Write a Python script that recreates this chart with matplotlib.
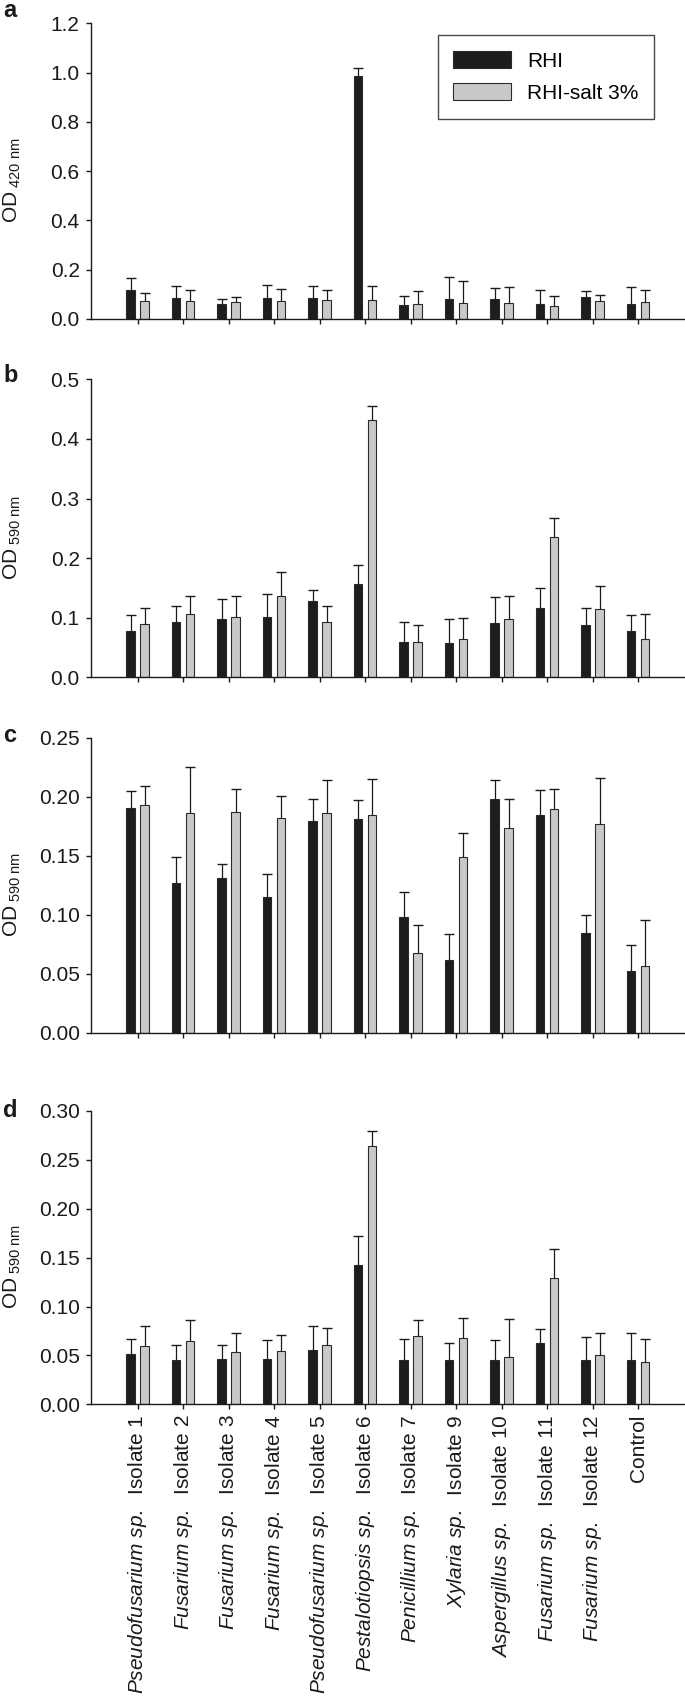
import matplotlib
matplotlib.use("Agg")
import matplotlib.pyplot as plt
import numpy as np

plt.rcParams["font.family"] = ["Liberation Sans", "DejaVu Sans"]
plt.rcParams["mathtext.fontset"] = "custom"
plt.rcParams["mathtext.rm"] = "Liberation Sans"
plt.rcParams["mathtext.it"] = "Liberation Sans:italic"
plt.rcParams["mathtext.bf"] = "Liberation Sans:bold"

# strain names: italic genus part + plain isolate part
GENUS = ["Pseudofusarium sp.", "Fusarium sp.", "Fusarium sp.", "Fusarium sp.",
         "Pseudofusarium sp.", "Pestalotiopsis sp.", "Penicillium sp.", "Xylaria sp.",
         "Aspergillus sp.", "Fusarium sp.", "Fusarium sp.", ""]
ISOLATE = ["Isolate 1", "Isolate 2", "Isolate 3", "Isolate 4", "Isolate 5", "Isolate 6",
           "Isolate 7", "Isolate 9", "Isolate 10", "Isolate 11", "Isolate 12", "Control"]

SERIES = ["RHI", "RHI-salt 3%"]

# panel a, OD 420 nm
a_rhi = [0.118, 0.087, 0.062, 0.087, 0.087, 0.986, 0.057, 0.080, 0.080, 0.060, 0.091, 0.062]
a_rhi_err = [0.050, 0.046, 0.019, 0.050, 0.046, 0.032, 0.038, 0.091, 0.046, 0.057, 0.024, 0.067]
a_salt = [0.072, 0.072, 0.068, 0.072, 0.077, 0.079, 0.060, 0.066, 0.064, 0.054, 0.075, 0.069]
a_salt_err = [0.034, 0.047, 0.021, 0.050, 0.042, 0.054, 0.054, 0.090, 0.066, 0.038, 0.024, 0.050]

# panel b, OD 590 nm
b_rhi = [0.078, 0.092, 0.097, 0.101, 0.128, 0.156, 0.060, 0.057, 0.091, 0.117, 0.088, 0.077]
b_rhi_err = [0.027, 0.028, 0.035, 0.039, 0.018, 0.033, 0.032, 0.040, 0.043, 0.033, 0.029, 0.028]
b_salt = [0.089, 0.107, 0.102, 0.136, 0.092, 0.431, 0.060, 0.065, 0.097, 0.235, 0.114, 0.064]
b_salt_err = [0.027, 0.029, 0.035, 0.041, 0.028, 0.025, 0.028, 0.035, 0.040, 0.032, 0.040, 0.043]

# panel c, OD 590 nm
c_rhi = [0.191, 0.127, 0.131, 0.115, 0.180, 0.181, 0.098, 0.062, 0.198, 0.185, 0.085, 0.052]
c_rhi_err = [0.014, 0.022, 0.012, 0.020, 0.018, 0.016, 0.021, 0.022, 0.016, 0.021, 0.015, 0.022]
c_salt = [0.193, 0.186, 0.187, 0.182, 0.186, 0.185, 0.068, 0.149, 0.174, 0.190, 0.177, 0.057]
c_salt_err = [0.016, 0.039, 0.020, 0.019, 0.028, 0.030, 0.023, 0.020, 0.024, 0.017, 0.039, 0.039]

# panel d, OD 590 nm
d_rhi = [0.051, 0.045, 0.046, 0.046, 0.056, 0.142, 0.045, 0.045, 0.045, 0.063, 0.045, 0.045]
d_rhi_err = [0.016, 0.016, 0.015, 0.020, 0.024, 0.030, 0.022, 0.018, 0.021, 0.014, 0.024, 0.028]
d_salt = [0.060, 0.065, 0.053, 0.055, 0.061, 0.264, 0.070, 0.068, 0.048, 0.129, 0.050, 0.043]
d_salt_err = [0.020, 0.021, 0.020, 0.016, 0.017, 0.016, 0.016, 0.020, 0.039, 0.030, 0.023, 0.024]

PANELS = [
    ("a", "420", a_rhi, a_rhi_err, a_salt, a_salt_err, 1.2, 0.2, "%.1f"),
    ("b", "590", b_rhi, b_rhi_err, b_salt, b_salt_err, 0.5, 0.1, "%.1f"),
    ("c", "590", c_rhi, c_rhi_err, c_salt, c_salt_err, 0.25, 0.05, "%.2f"),
    ("d", "590", d_rhi, d_rhi_err, d_salt, d_salt_err, 0.30, 0.05, "%.2f"),
]

W, H = 685, 1697
AX_LEFT = 90.8
AX_PX = [(23.3, 319.0), (379.3, 677.3), (738.0, 1032.7), (1111.0, 1404.3)]
FS = 15
BAR_W = 0.19
OFF = 0.154


def tick_label(genus, isolate):
    if not genus:
        return isolate
    return "$\\mathit{" + genus.replace(" ", "\\ ") + "}$  " + isolate


def draw_bars(ax, x, vals, errs, color):
    ax.bar(x, vals, width=BAR_W, color=color, edgecolor="#2a2a2a", linewidth=0.8, zorder=2)
    tops = np.array(vals) + np.array(errs)
    ax.vlines(x, vals, tops, color="#1a1a1a", linewidth=0.9, zorder=3)
    ax.plot(x, tops, ls="none", marker="_", ms=6.5, mew=1.0, color="#1a1a1a", zorder=3)


fig = plt.figure(figsize=(W / 100, H / 100), dpi=100)
x = np.arange(len(ISOLATE))

for (letter, nm, rhi, rhi_err, salt, salt_err, ymax, step, fmt), (top, bottom) in zip(PANELS, AX_PX):
    ax = fig.add_axes([AX_LEFT / W, 1 - bottom / H, 1 - AX_LEFT / W, (bottom - top) / H])
    draw_bars(ax, x - OFF, rhi, rhi_err, "#1e1c1d")
    draw_bars(ax, x + OFF, salt, salt_err, "#c9c9c9")

    ax.set_xlim(-1.03, 12.03)
    ax.set_ylim(0, ymax)
    yt = np.arange(0, ymax + step / 2, step)
    ax.set_yticks(yt)
    ax.set_yticklabels([fmt % v for v in yt])
    ax.set_xticks(x)
    if letter == "d":
        ax.set_xticklabels([tick_label(g, i) for g, i in zip(GENUS, ISOLATE)], rotation=90)
    else:
        ax.set_xticklabels([])

    for side in ("top", "right"):
        ax.spines[side].set_visible(False)
    for side in ("left", "bottom"):
        ax.spines[side].set_linewidth(1.0)
        ax.spines[side].set_color("#1a1a1a")
    ax.tick_params(direction="out", length=3.5, width=1.0, color="#1a1a1a",
                   labelsize=FS, pad=4.5, labelcolor="#1a1a1a")
    ax.tick_params(axis="x", pad=4)

    mid = (top + bottom) / 2 + 9
    fig.text(12.5 / W, 1 - mid / H, "$\\mathregular{OD_{\\ " + nm + "\\ nm}}$",
             rotation=90, ha="center", va="center", fontsize=FS, color="#1a1a1a")
    fig.text(3 / W, 1 - (top + {"a": -6.3, "b": 3, "c": 4, "d": 6}[letter]) / H, letter,
             ha="left", va="baseline", fontsize=17, fontweight="bold", color="#1a1a1a")

    if letter == "a":
        handles = [plt.Rectangle((0, 0), 1, 1, facecolor="#1e1c1d", edgecolor="#2a2a2a", linewidth=0.8),
                   plt.Rectangle((0, 0), 1, 1, facecolor="#c9c9c9", edgecolor="#2a2a2a", linewidth=0.8)]
        leg = ax.legend(handles, SERIES, loc="upper right", bbox_to_anchor=(0.948, 0.960),
                        borderaxespad=0, fontsize=FS, fancybox=False, frameon=True,
                        handlelength=2.8, handleheight=0.9, handletextpad=0.75,
                        labelspacing=0.6, borderpad=0.75)
        leg.get_frame().set_edgecolor("#1a1a1a")
        leg.get_frame().set_linewidth(1.0)

fig.savefig("out.png", dpi=100)
